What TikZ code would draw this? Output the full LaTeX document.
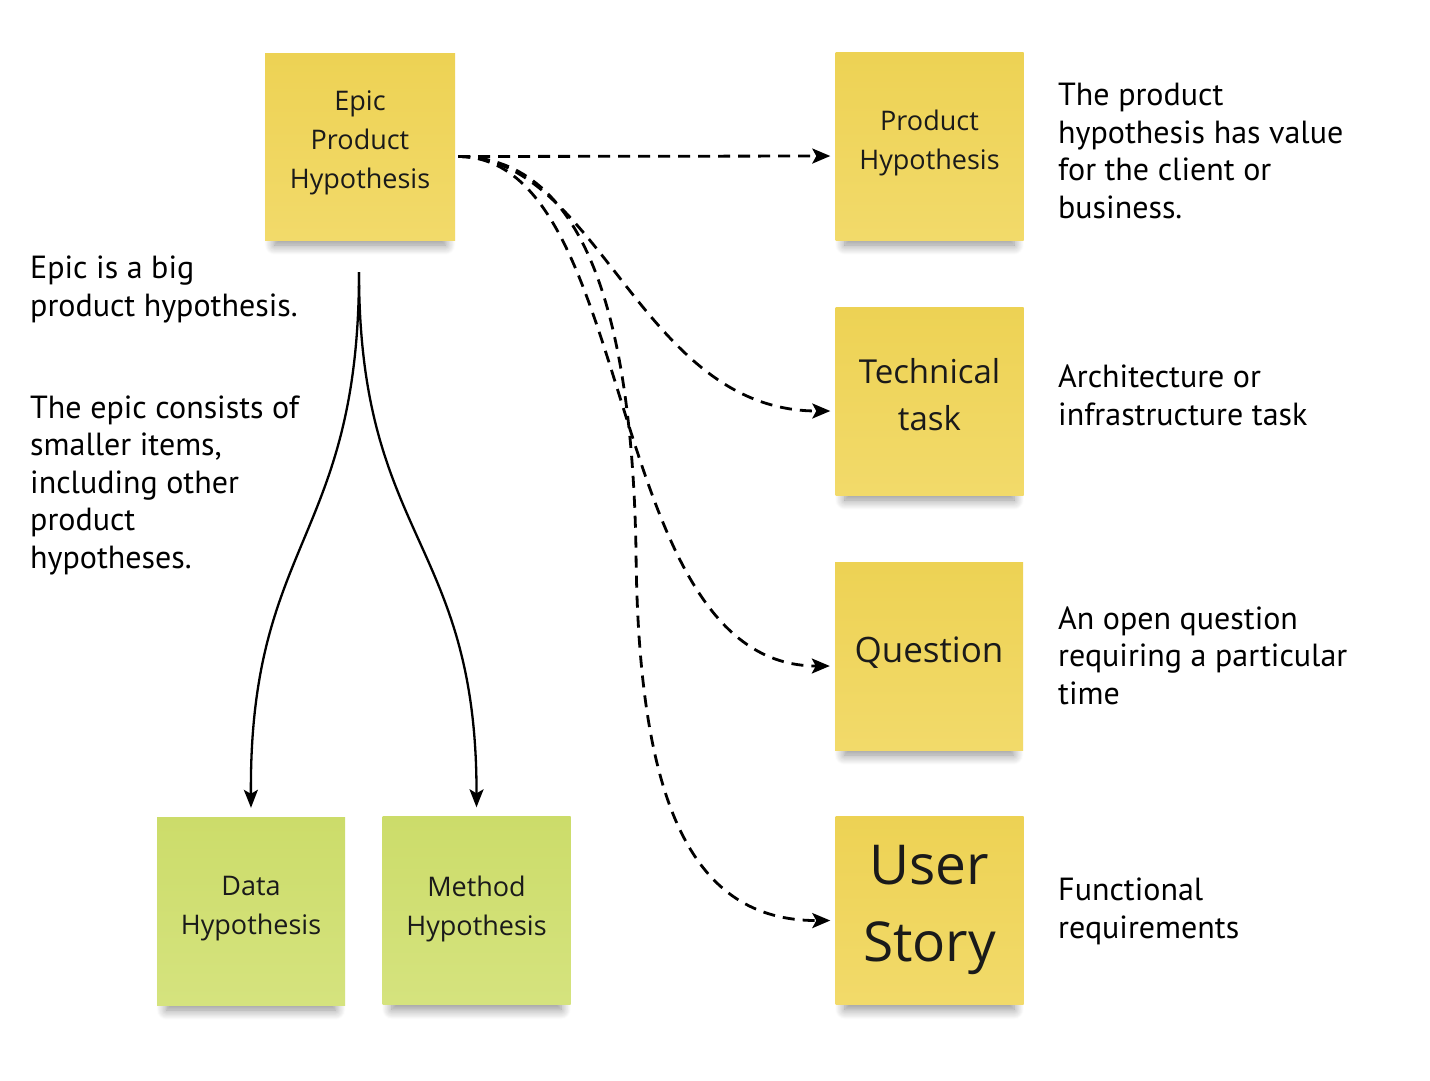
\documentclass[tikz,border=0pt]{standalone}
\usepackage{fontspec}
\setmainfont{PT Sans}
\newfontfamily\notefont{Open Sans}
\usetikzlibrary{arrows.meta,shadows.blur}
\definecolor{ytop}{HTML}{EDD254}
\definecolor{ybot}{HTML}{F2DA6A}
\definecolor{gtop}{HTML}{CCDC6A}
\definecolor{gbot}{HTML}{D5E37E}
\definecolor{ink}{HTML}{1A1A1A}
\tikzset{
  note/.style={rectangle, minimum width=188pt, minimum height=188pt, inner sep=0pt,
    blur shadow={shadow xshift=0pt, shadow yshift=-16pt, shadow scale=0.9,
      shadow opacity=45, shadow blur radius=11pt, shadow blur steps=12}},
  ynote/.style={note, top color=ytop, bottom color=ybot},
  gnote/.style={note, top color=gtop, bottom color=gbot},
  ntext/.style={font=\notefont\fontsize{27}{39}\selectfont, text=ink, align=center, inner sep=0pt},
  side/.style={font=\fontsize{32}{37.5}\selectfont, text=black, align=left, anchor=base west, inner sep=0pt},
  dasharrow/.style={line width=2.8pt, dash pattern=on 12pt off 8pt,
    -{Stealth[length=18pt,width=15pt,inset=4pt]}},
  solidarrow/.style={line width=2.3pt, -{Stealth[length=18pt,width=14pt,inset=4pt]}}
}
\begin{document}
\begin{tikzpicture}[x=1pt,y=-1pt]
\useasboundingbox (0,0) rectangle (1430,1080);
% notes
\node[ynote, minimum width=190pt, minimum height=187pt] (epic) at (360,146.5) {};
\node[ynote] (ph) at (929.5,146) {};
\node[ynote] (tech) at (929.5,401) {};
\node[ynote] (quest) at (929,656) {};
\node[ynote] (story) at (929.5,910.5) {};
\node[gnote] (data) at (251,911) {};
\node[gnote] (method) at (476.5,910.5) {};
% note texts
\node[ntext] (epic-t) at (360,143) {Epic\\Product\\Hypothesis};
\node[ntext] (ph-t) at (929.5,143) {Product\\Hypothesis};
\node[ntext, font=\notefont\fontsize{33}{47}\selectfont] (tech-t) at (929.5,395) {Technical\\task};
\node[ntext, font=\notefont\fontsize{35}{42}\selectfont] (quest-t) at (929,653) {Question};
\node[ntext, font=\notefont\fontsize{55}{77}\selectfont] (story-t) at (929.5,910) {User\\Story};
\node[ntext] (data-t) at (251,909) {Data\\Hypothesis};
\node[ntext] (method-t) at (476.5,909) {Method\\Hypothesis};
% side texts (anchored at the baseline of their last line)
\node[side] (s1) at (30,316) {Epic is a big\\product hypothesis.};
\node[side] (s2) at (30,568) {The epic consists of\\smaller items,\\including other\\product\\hypotheses.};
\node[side] (s3) at (1058,218) {The product\\hypothesis has value\\for the client or\\business.};
\node[side] (s4) at (1058,425) {Architecture or\\infrastructure task};
\node[side] (s5) at (1058,704) {An open question\\requiring a particular\\time};
\node[side] (s6) at (1058,938) {Functional\\requirements};
% solid connectors
\coordinate (split) at (359,272);
\draw[solidarrow] (split) .. controls (359,540) and (249,540) .. ([yshift=9pt]data.north);
\draw[solidarrow] (split) .. controls (359,540) and (477,540) .. ([yshift=9pt]method.north);
% dashed connectors
\coordinate (src) at ([xshift=3pt,yshift=-10pt]epic.east);
\draw[dasharrow] (src) -- ([xshift=-5pt,yshift=-10pt]ph.west);
\draw[dasharrow] (src) .. controls (600,157) and (640,411) .. ([xshift=-5pt,yshift=-10pt]tech.west);
\draw[dasharrow] (src) .. controls (640,157) and (600,666) .. ([xshift=-5pt,yshift=-10pt]quest.west);
\draw[dasharrow] (src) .. controls (590,157) and (632,330) .. (636,550)
  .. controls (638,800) and (690,921) .. ([xshift=-5pt,yshift=-10pt]story.west);
\end{tikzpicture}
\end{document}
